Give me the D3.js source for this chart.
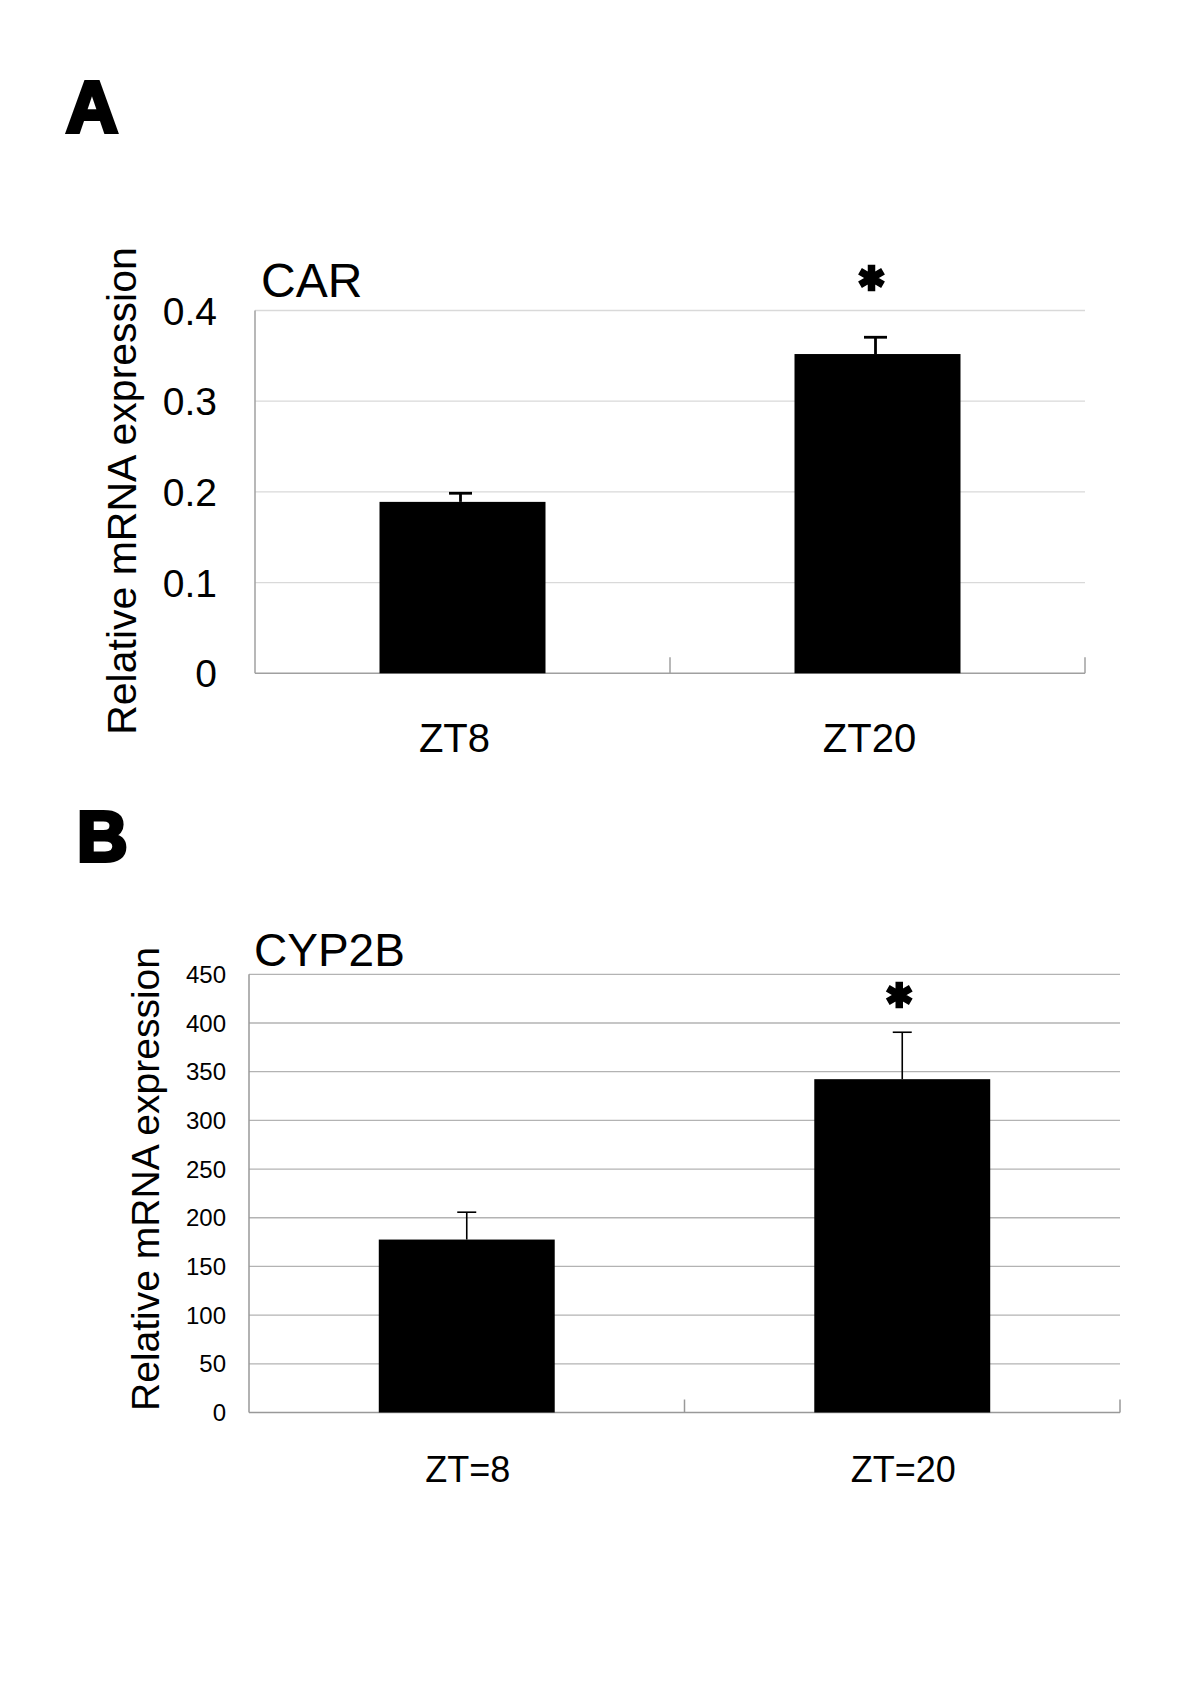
<!DOCTYPE html>
<html>
<head>
<meta charset="utf-8">
<script src="https://cdn.jsdelivr.net/npm/d3@7"></script>
<style>
  html, body { margin: 0; padding: 0; background: #fff; }
  svg { display: block; }
  text { font-family: "Liberation Sans", Arial, sans-serif; fill: #000; }
</style>
</head>
<body>
<svg id="chart" width="1192" height="1692"></svg>
<script>
// ---- Data ----
const carCategories = ["ZT8", "ZT20"];
const carValues = [0.189, 0.352];
const carErrors = [0.0095, 0.0185];
const carTicks = [0, 0.1, 0.2, 0.3, 0.4];
const carTickLabels = ["0", "0.1", "0.2", "0.3", "0.4"];
const carSignificant = [false, true];

const cypCategories = ["ZT=8", "ZT=20"];
const cypValues = [177.6, 342.3];
const cypErrors = [28.1, 48.2];
const cypTicks = [0, 50, 100, 150, 200, 250, 300, 350, 400, 450];
const cypTickLabels = ["0", "50", "100", "150", "200", "250", "300", "350", "400", "450"];
const cypSignificant = [false, true];

const svg = d3.select("#chart");

function drawPanel(cfg) {
  const g = svg.append("g");
  const x = d3.scaleBand().domain(cfg.categories)
    .range([cfg.left, cfg.right]).paddingInner(cfg.padIn).paddingOuter(cfg.padOut);
  const y = d3.scaleLinear().domain(cfg.domain).range([cfg.bottom, cfg.top]);

  // gridlines
  g.selectAll(".grid").data(cfg.ticks.filter(t => t !== 0)).enter().append("line")
    .attr("x1", cfg.left).attr("x2", cfg.right)
    .attr("y1", d => y(d)).attr("y2", d => y(d))
    .attr("stroke", cfg.gridColor).attr("stroke-width", 1.3);

  // axes
  g.append("line").attr("x1", cfg.left).attr("x2", cfg.left)
    .attr("y1", y(cfg.domain[1])).attr("y2", y(0))
    .attr("stroke", cfg.axisColor).attr("stroke-width", 1.5);
  g.append("line").attr("x1", cfg.left).attr("x2", cfg.right)
    .attr("y1", y(0)).attr("y2", y(0))
    .attr("stroke", cfg.axisColor).attr("stroke-width", 1.5);
  // category boundary ticks
  const bounds = cfg.categories.map((c, i) => i === 0 ? null : x(c) - x.step() * x.paddingInner() / 2).filter(v => v !== null);
  bounds.push(cfg.right);
  g.selectAll(".ctick").data(bounds).enter().append("line")
    .attr("x1", d => d).attr("x2", d => d)
    .attr("y1", y(0)).attr("y2", y(0) - cfg.tickLen)
    .attr("stroke", cfg.axisColor).attr("stroke-width", 1.5);

  // y tick labels
  g.selectAll(".ylab").data(cfg.ticks).enter().append("text")
    .attr("x", cfg.tickLabelX).attr("y", d => y(d))
    .attr("dy", "0.36em")
    .attr("text-anchor", "end")
    .attr("font-size", cfg.tickFont)
    .text((d, i) => cfg.tickLabels[i]);

  // bars
  g.selectAll(".bar").data(cfg.values).enter().append("rect")
    .attr("x", (d, i) => x(cfg.categories[i]))
    .attr("width", x.bandwidth())
    .attr("y", d => y(d))
    .attr("height", d => y(0) - y(d))
    .attr("fill", "#000");

  // error bars
  const cx = i => x(cfg.categories[i]) + x.bandwidth() / 2 + cfg.errShift;
  g.selectAll(".err").data(cfg.values).enter().append("line")
    .attr("x1", (d, i) => cx(i)).attr("x2", (d, i) => cx(i))
    .attr("y1", d => y(d)).attr("y2", (d, i) => y(d + cfg.errors[i]))
    .attr("stroke", "#000").attr("stroke-width", cfg.errWidth);
  g.selectAll(".cap").data(cfg.values).enter().append("line")
    .attr("x1", (d, i) => cx(i) - cfg.capHalf).attr("x2", (d, i) => cx(i) + cfg.capHalf)
    .attr("y1", (d, i) => y(d + cfg.errors[i])).attr("y2", (d, i) => y(d + cfg.errors[i]))
    .attr("stroke", "#000").attr("stroke-width", cfg.errWidth);

  // significance asterisks
  const sym = d3.symbol().type(d3.symbolAsterisk).size(cfg.starSize);
  cfg.significant.forEach((s, i) => {
    if (!s) return;
    g.append("path").attr("d", sym())
      .attr("transform", `translate(${cx(i) + cfg.starShift},${cfg.starY})`)
      .attr("fill", "none").attr("stroke", "#000").attr("stroke-width", 7.5);
  });

  // category labels
  g.selectAll(".xlab").data(cfg.categories).enter().append("text")
    .attr("x", d => x(d) + x.bandwidth() / 2 + cfg.labelShift)
    .attr("y", cfg.labelY)
    .attr("text-anchor", "middle")
    .attr("font-size", cfg.labelFont)
    .text(d => d);

  // gene title
  g.append("text").attr("x", cfg.titleX).attr("y", cfg.titleY)
    .attr("font-size", cfg.titleFont).text(cfg.title);

  // y-axis title
  g.append("text")
    .attr("transform", `translate(${cfg.yTitleX},${cfg.yTitleY}) rotate(-90)`)
    .attr("text-anchor", "middle")
    .attr("font-size", cfg.yTitleFont)
    .text("Relative mRNA expression");

  // panel letter
  g.append("text").attr("x", cfg.letterX).attr("y", cfg.letterY)
    .attr("font-size", cfg.letterFont).attr("font-weight", "bold")
    .attr("stroke", "#000").attr("stroke-width", 4)
    .text(cfg.letter);
}

drawPanel({
  categories: carCategories, values: carValues, errors: carErrors,
  ticks: carTicks, tickLabels: carTickLabels, significant: carSignificant,
  domain: [0, 0.4], left: 255, right: 1085, top: 310.5, bottom: 673.3,
  padIn: 0.6, padOut: 0.3,
  gridColor: "#d9d9d9", axisColor: "#a0a0a0", tickLen: 16,
  tickLabelX: 217, tickFont: 39,
  errShift: -2, errWidth: 2.8, capHalf: 11.5,
  starSize: 500, starShift: -4, starY: 278,
  labelShift: -8, labelY: 752, labelFont: 40,
  title: "CAR", titleX: 261, titleY: 297, titleFont: 48,
  yTitleX: 136, yTitleY: 491, yTitleFont: 41,
  letter: "A", letterX: 66, letterY: 132, letterFont: 72
});

drawPanel({
  categories: cypCategories, values: cypValues, errors: cypErrors,
  ticks: cypTicks, tickLabels: cypTickLabels, significant: cypSignificant,
  domain: [0, 450], left: 249, right: 1120, top: 974.3, bottom: 1412.5,
  padIn: 0.596, padOut: 0.298,
  gridColor: "#b3b3b3", axisColor: "#999999", tickLen: 13,
  tickLabelX: 226, tickFont: 24,
  errShift: 0, errWidth: 1.6, capHalf: 9.5,
  starSize: 500, starShift: -3, starY: 995,
  labelShift: 1, labelY: 1482, labelFont: 36,
  title: "CYP2B", titleX: 254, titleY: 966, titleFont: 46,
  yTitleX: 159, yTitleY: 1179, yTitleFont: 39,
  letter: "B", letterX: 77, letterY: 861, letterFont: 70
});
</script>
</body>
</html>
